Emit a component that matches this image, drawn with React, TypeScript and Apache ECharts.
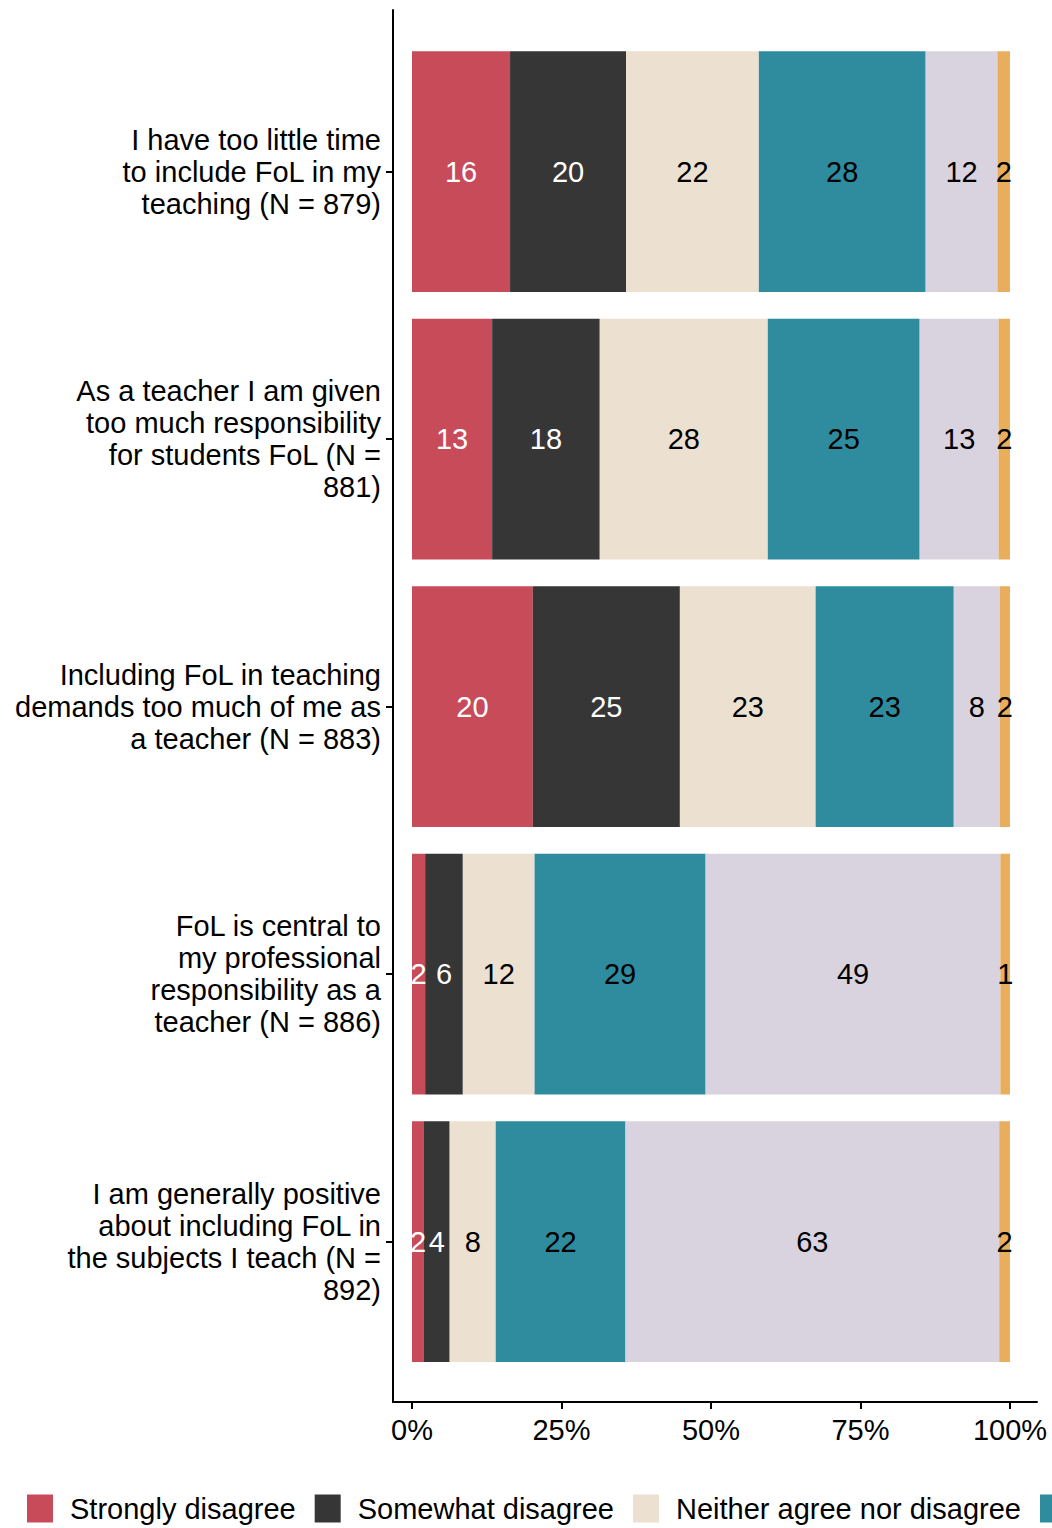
import React, { useEffect, useRef } from "react";
import * as echarts from "echarts";

const questions = [
  "I have too little time\nto include FoL in my\nteaching (N = 879)",
  "As a teacher I am given\ntoo much responsibility\nfor students FoL (N =\n881)",
  "Including FoL in teaching\ndemands too much of me as\na teacher (N = 883)",
  "FoL is central to\nmy professional\nresponsibility as a\nteacher (N = 886)",
  "I am generally positive\nabout including FoL in\nthe subjects I teach (N =\n892)",
];

const responses = [
  "Strongly disagree",
  "Somewhat disagree",
  "Neither agree nor disagree",
  "Somewhat agree",
  "Strongly agree",
  "Don't know",
];

// measured shares (%) per response, one value per question
const stronglyDisagree = [16.4, 13.4, 20.2, 2.2, 2.0];
const somewhatDisagree = [19.4, 18.0, 24.6, 6.3, 4.3];
const neither = [22.2, 28.1, 22.7, 12.0, 7.7];
const somewhatAgree = [27.9, 25.4, 23.1, 28.6, 21.7];
const stronglyAgree = [12.0, 13.2, 7.7, 49.3, 62.5];
const dontKnow = [2.1, 1.9, 1.7, 1.6, 1.8];

// printed labels
const stronglyDisagreeLbl = [16, 13, 20, 2, 2];
const somewhatDisagreeLbl = [20, 18, 25, 6, 4];
const neitherLbl = [22, 28, 23, 12, 8];
const somewhatAgreeLbl = [28, 25, 23, 29, 22];
const stronglyAgreeLbl = [12, 13, 8, 49, 63];
const dontKnowLbl = [2, 2, 2, 1, 2];

const xTicks = [0, 25, 50, 75, 100];

const shares = [stronglyDisagree, somewhatDisagree, neither, somewhatAgree, stronglyAgree, dontKnow];
const labels = [stronglyDisagreeLbl, somewhatDisagreeLbl, neitherLbl, somewhatAgreeLbl, stronglyAgreeLbl, dontKnowLbl];
const colors = ["#C84B5A", "#363636", "#ECE0D1", "#2E8C9E", "#D9D2DF", "#E9AE5B"];
const labelColors = ["#ffffff", "#ffffff", "#000000", "#000000", "#000000", "#000000"];

const FONT = "'Liberation Sans', Arial, Helvetica, sans-serif";
const X_MIN = -3.177;
const X_MAX = 104.52;

export default function App() {
  const ref = useRef<HTMLDivElement>(null);
  useEffect(() => {
    if (!ref.current) return;
    const chart = echarts.init(ref.current, null, { renderer: "svg" });
    const axisLineStyle = { color: "#000000", width: 2 };
    chart.setOption({
      animation: false,
      backgroundColor: "#ffffff",
      textStyle: { fontFamily: FONT },
      grid: [
        { left: 393, top: 10, width: 644, height: 1392, containLabel: false },
        { left: 393, top: 37.75, width: 644, height: 1337.5, containLabel: false },
      ],
      xAxis: [
        {
          type: "value",
          gridIndex: 0,
          min: X_MIN,
          max: X_MAX,
          axisLine: { show: true, onZero: false, lineStyle: axisLineStyle },
          axisTick: { show: true, length: 7, lineStyle: axisLineStyle, customValues: xTicks },
          axisLabel: {
            show: true,
            customValues: xTicks,
            formatter: (v: number) => `${v}%`,
            fontSize: 29,
            fontFamily: FONT,
            color: "#000000",
            margin: 13,
          },
          splitLine: { show: false },
        },
        {
          type: "value",
          gridIndex: 1,
          min: X_MIN,
          max: X_MAX,
          show: false,
        },
      ],
      yAxis: [
        {
          type: "value",
          gridIndex: 0,
          min: 0,
          max: 1,
          axisLine: { show: true, onZero: false, lineStyle: axisLineStyle },
          axisTick: { show: false },
          axisLabel: { show: false },
          splitLine: { show: false },
        },
        {
          type: "category",
          gridIndex: 1,
          inverse: true,
          data: questions,
          axisLine: { show: false, onZero: false },
          axisTick: { show: true, alignWithLabel: true, length: 7, lineStyle: axisLineStyle },
          axisLabel: {
            fontSize: 29,
            fontFamily: FONT,
            color: "#000000",
            lineHeight: 32,
            align: "right",
            margin: 12,
          },
          splitLine: { show: false },
        },
      ],
      legend: {
        left: 27,
        top: 1494,
        padding: 0,
        orient: "horizontal",
        itemWidth: 26,
        itemHeight: 28,
        itemGap: 19,
        icon: "rect",
        data: responses,
        textStyle: {
          fontSize: 29,
          fontFamily: FONT,
          color: "#000000",
          padding: [0, 0, 0, 12],
        },
      },
      series: responses.map((name, s) => ({
        name,
        type: "bar",
        stack: "total",
        xAxisIndex: 1,
        yAxisIndex: 1,
        barWidth: "90%",
        itemStyle: { color: colors[s] },
        label: {
          show: true,
          position: "inside",
          fontSize: 29,
          fontFamily: FONT,
          color: labelColors[s],
          formatter: (p: any) => String(labels[s][p.dataIndex]),
        },
        data: shares[s],
      })),
    });
    return () => chart.dispose();
  }, []);
  return (
    <div
      style={{
        position: "fixed",
        left: 0,
        top: 0,
        width: 1052,
        height: 1528,
        overflow: "hidden",
        background: "#ffffff",
      }}
    >
      <div ref={ref} style={{ width: 1800, height: 1528 }} />
    </div>
  );
}
